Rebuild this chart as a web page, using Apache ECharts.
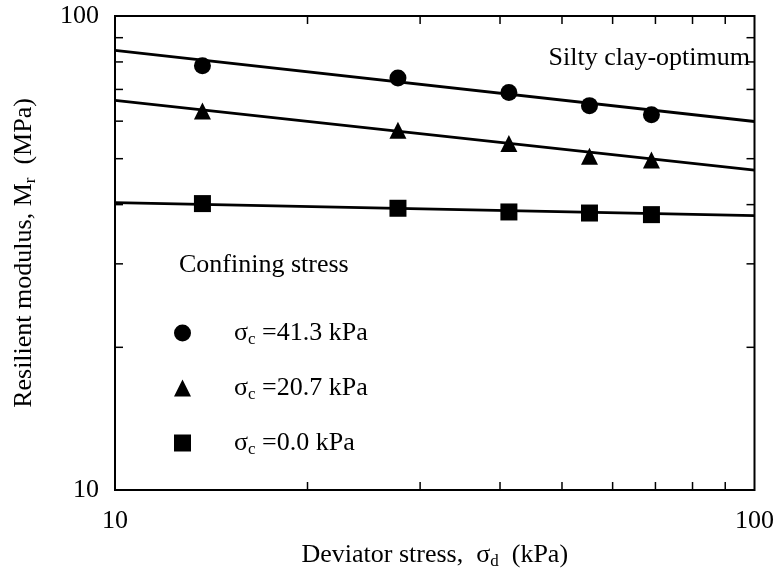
<!DOCTYPE html>
<html>
<head>
<meta charset="utf-8">
<script src="https://cdn.jsdelivr.net/npm/echarts@6/dist/echarts.min.js"></script>
<style>
html,body{margin:0;padding:0;background:#fff;}
#c{width:777px;height:575px;}
</style>
</head>
<body>
<div id="c"></div>
<script>
// ---- data ----
const deviatorStress = [13.7, 27.7, 41.3, 55.2, 69.0];
const mr_41_3 = [78.5, 74.0, 69.0, 64.7, 61.9];
const mr_20_7 = [63.0, 57.4, 53.8, 50.6, 49.7];
const mr_0_0 = [40.2, 39.3, 38.6, 38.4, 38.1];
const fitX = [10, 100];
const fit_41_3 = [84.6, 59.9];
const fit_20_7 = [66.4, 47.3];
const fit_0_0 = [40.4, 37.9];
const confining = ['41.3', '20.7', '0.0'];
const xMinorTicks = [20, 30, 40, 50, 60, 70, 80, 90];
const yMinorTicks = [20, 30, 40, 50, 60, 70, 80, 90];

const FONT = 'Liberation Serif';
const pair = (xs, ys) => xs.map((x, i) => [x, ys[i]]);

const chart = echarts.init(document.getElementById('c'), null, {renderer: 'canvas'});

function tickItem(params, api, horizontal) {
  const v = api.value(horizontal ? 0 : 1);
  const len = 8;
  const st = {stroke: '#000', lineWidth: 1.5};
  if (horizontal) {
    const b = api.coord([v, 10]);
    const t = api.coord([v, 100]);
    return {type: 'group', children: [
      {type: 'line', shape: {x1: b[0], y1: b[1], x2: b[0], y2: b[1] - len}, style: st},
      {type: 'line', shape: {x1: t[0], y1: t[1], x2: t[0], y2: t[1] + len}, style: st}
    ]};
  } else {
    const l = api.coord([10, v]);
    const r = api.coord([100, v]);
    return {type: 'group', children: [
      {type: 'line', shape: {x1: l[0], y1: l[1], x2: l[0] + len, y2: l[1]}, style: st},
      {type: 'line', shape: {x1: r[0], y1: r[1], x2: r[0] - len, y2: r[1]}, style: st}
    ]};
  }
}

const lineStyle = {color: '#000', width: 2.8};
const mk = (name, symbol, size, ys) => ({
  name: name, type: 'scatter', symbol: symbol, symbolSize: size,
  itemStyle: {color: '#000', opacity: 1}, data: pair(deviatorStress, ys), z: 5
});
const fit = (ys) => ({
  type: 'line', data: pair(fitX, ys), showSymbol: false, symbol: 'none',
  lineStyle: lineStyle, silent: true, z: 4
});

const option = {
  backgroundColor: '#fff',
  animation: false,
  grid: {left: 115, right: 22, top: 16, bottom: 83, show: true, borderColor: '#000', borderWidth: 2, backgroundColor: 'transparent'},
  xAxis: {
    type: 'log', logBase: 10, min: 10, max: 100,
    axisLine: {show: false}, axisTick: {show: false}, splitLine: {show: false},
    axisLabel: {fontFamily: FONT, fontSize: 26, color: '#000', margin: 18},
    name: '{a|Deviator stress,  σ}{b|d}{a|  (kPa)}',
    nameLocation: 'middle', nameGap: 50,
    nameTextStyle: {fontFamily: FONT, color: '#000', rich: {
      a: {fontFamily: FONT, fontSize: 26, color: '#000', lineHeight: 30},
      b: {fontFamily: FONT, fontSize: 17, color: '#000', lineHeight: 14, verticalAlign: 'bottom'}
    }}
  },
  yAxis: {
    type: 'log', logBase: 10, min: 10, max: 100,
    axisLine: {show: false}, axisTick: {show: false}, splitLine: {show: false},
    axisLabel: {fontFamily: FONT, fontSize: 26, color: '#000', margin: 16},
    name: '{a|Resilient modulus, M}{b|r}{a|  (MPa)}',
    nameLocation: 'middle', nameGap: 76, nameRotate: 90,
    nameTextStyle: {fontFamily: FONT, color: '#000', rich: {
      a: {fontFamily: FONT, fontSize: 26, color: '#000', lineHeight: 30},
      b: {fontFamily: FONT, fontSize: 17, color: '#000', lineHeight: 14, verticalAlign: 'bottom'}
    }}
  },
  legend: {
    orient: 'vertical', left: 169, top: 315, itemGap: 27, itemWidth: 17, itemHeight: 17,
    data: confining.map(c => ({name: c})),
    formatter: (n) => '{s|σ}{c|c}{t| =' + n + ' kPa}',
    textStyle: {fontFamily: FONT, fontSize: 26, color: '#000', rich: {
      s: {fontFamily: FONT, fontSize: 26, color: '#000', lineHeight: 30, padding: [0, 0, 0, 38]},
      c: {fontFamily: FONT, fontSize: 17, color: '#000', lineHeight: 14, verticalAlign: 'bottom'},
      t: {fontFamily: FONT, fontSize: 26, color: '#000', lineHeight: 30}
    }},
    selectedMode: false
  },
  graphic: [
    {type: 'text', right: 27, top: 45, style: {text: 'Silty clay-optimum', font: '26px "Liberation Serif"', fill: '#000'}},
    {type: 'text', left: 179, top: 252, style: {text: 'Confining stress', font: '26px "Liberation Serif"', fill: '#000'}}
  ],
  series: [
    fit(fit_41_3), fit(fit_20_7), fit(fit_0_0),
    mk(confining[0], 'circle', 17, mr_41_3),
    mk(confining[1], 'triangle', 17, mr_20_7),
    mk(confining[2], 'rect', 17, mr_0_0),
    {type: 'custom', silent: true, clip: false, data: xMinorTicks.map(v => [v, 10]),
     renderItem: (p, api) => tickItem(p, api, true), z: 6},
    {type: 'custom', silent: true, clip: false, data: yMinorTicks.map(v => [10, v]),
     renderItem: (p, api) => tickItem(p, api, false), z: 6}
  ]
};
chart.setOption(option);
</script>
</body>
</html>
